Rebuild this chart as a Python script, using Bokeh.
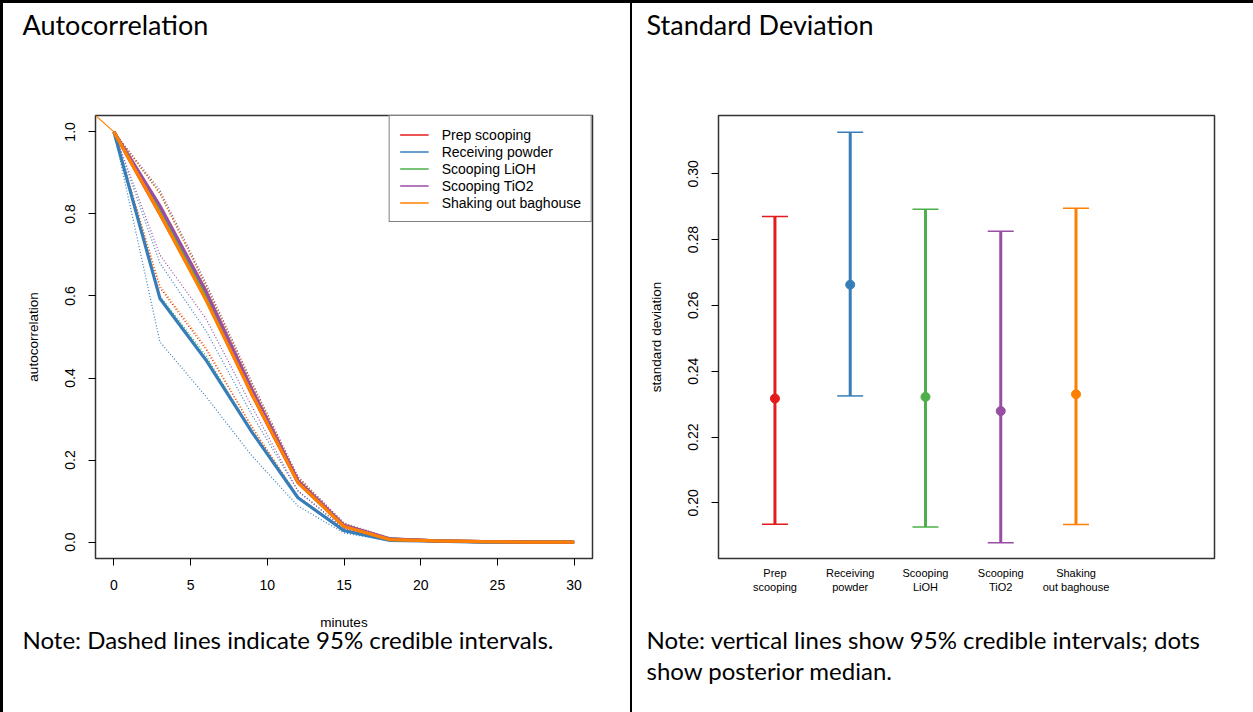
import numpy as np
from bokeh.plotting import figure
from bokeh.models import (Label, Legend, LegendItem, FixedTicker, PrintfTickFormatter,
                          Range1d, Spacer, Whisker, TeeHead, ColumnDataSource, Title)
from bokeh.layouts import row, column
from bokeh.embed import file_html
from bokeh.resources import INLINE

# ---------------- data ----------------
series_names = ["Prep scooping", "Receiving powder", "Scooping LiOH", "Scooping TiO2", "Shaking out baghouse"]
colors = ["#E41A1C", "#377EB8", "#4DAF4A", "#984EA3", "#FF7F00"]

lags = [0, 3, 6, 9, 12, 15, 18, 21, 24, 27, 30]

acf_prep = [1.0, 0.800, 0.595, 0.360, 0.145, 0.039, 0.007, 0.003, 0.001, 0.0, 0.0]
acf_recv = [1.0, 0.594, 0.444, 0.268, 0.108, 0.028, 0.004, 0.002, 0.0, 0.0, 0.0]
acf_lioh = [1.0, 0.808, 0.600, 0.365, 0.148, 0.040, 0.007, 0.003, 0.001, 0.0, 0.0]
acf_tio2 = [1.0, 0.820, 0.612, 0.372, 0.150, 0.041, 0.008, 0.003, 0.001, 0.0, 0.0]
acf_shake = [1.0, 0.800, 0.590, 0.360, 0.145, 0.038, 0.006, 0.003, 0.001, 0.0, 0.0]

lo_prep = [1.0, 0.620, 0.470, 0.280, 0.110, 0.029, 0.004, 0.001, 0.0, 0.0, 0.0]
lo_recv = [1.0, 0.488, 0.355, 0.210, 0.088, 0.022, 0.003, 0.001, 0.0, 0.0, 0.0]
lo_lioh = [1.0, 0.600, 0.455, 0.270, 0.106, 0.028, 0.004, 0.001, 0.0, 0.0, 0.0]
lo_tio2 = [1.0, 0.700, 0.545, 0.330, 0.124, 0.032, 0.005, 0.001, 0.0, 0.0, 0.0]
lo_shake = [1.0, 0.625, 0.475, 0.282, 0.111, 0.029, 0.004, 0.001, 0.0, 0.0, 0.0]

hi_prep = [1.0, 0.850, 0.625, 0.385, 0.157, 0.045, 0.009, 0.004, 0.001, 0.0, 0.0]
hi_recv = [1.0, 0.680, 0.515, 0.310, 0.125, 0.034, 0.006, 0.002, 0.0, 0.0, 0.0]
hi_lioh = [1.0, 0.852, 0.627, 0.386, 0.157, 0.045, 0.009, 0.004, 0.001, 0.0, 0.0]
hi_tio2 = [1.0, 0.858, 0.632, 0.390, 0.160, 0.047, 0.009, 0.004, 0.001, 0.0, 0.0]
hi_shake = [1.0, 0.850, 0.625, 0.385, 0.157, 0.045, 0.009, 0.004, 0.001, 0.0, 0.0]

lead_lags = [-3, 0]
lead_acf = [1.1, 1.0]

acf_x_ticks = [0, 5, 10, 15, 20, 25, 30]
acf_y_ticks = [0.0, 0.2, 0.4, 0.6, 0.8, 1.0]

sd_labels = ["Prep\nscooping", "Receiving\npowder", "Scooping\nLiOH", "Scooping\nTiO2", "Shaking\nout baghouse"]
sd_pos = [1, 2, 3, 4, 5]
sd_median = [0.2317, 0.2663, 0.2322, 0.2279, 0.2330]
sd_lower = [0.1935, 0.2325, 0.1927, 0.1879, 0.1934]
sd_upper = [0.2870, 0.3126, 0.2892, 0.2825, 0.2895]
sd_y_ticks = [0.20, 0.22, 0.24, 0.26, 0.28, 0.30]

title_left = "Autocorrelation"
title_right = "Standard Deviation"
note_left = ["Note: Dashed lines indicate 95% credible intervals."]
note_right = ["Note: vertical lines show 95% credible intervals; dots", "show posterior median."]

acf_mid = [acf_prep, acf_recv, acf_lioh, acf_tio2, acf_shake]
acf_lo = [lo_prep, lo_recv, lo_lioh, lo_tio2, lo_shake]
acf_hi = [hi_prep, hi_recv, hi_lioh, hi_tio2, hi_shake]

AX_FONT = "Liberation Sans"
DOC_FONT = "Lato"
W_L, W_R = 627, 621
H_TITLE, H_PLOT = 60, 649


def style_axes(p):
    p.xgrid.visible = False
    p.ygrid.visible = False
    p.outline_line_color = "#333333"
    p.outline_line_width = 1.5
    p.background_fill_color = "white"
    p.border_fill_color = "white"
    for ax in (p.xaxis[0], p.yaxis[0]):
        ax.axis_line_color = None
        ax.major_tick_in = 0
        ax.major_tick_out = 7
        ax.major_tick_line_color = "black"
        ax.minor_tick_line_color = None
        ax.major_label_text_font = AX_FONT
        ax.major_label_text_font_size = "14px"
        ax.major_label_text_color = "black"
        ax.axis_label_text_font = AX_FONT
        ax.axis_label_text_font_size = "13.5px"
        ax.axis_label_text_font_style = "normal"
        ax.axis_label_text_color = "black"
    p.yaxis[0].major_label_orientation = "vertical"


def add_note_line(p, text, offset, standoff):
    p.add_layout(Title(text=text, align="left", offset=offset, standoff=standoff,
                       text_font=DOC_FONT, text_font_size="24px",
                       text_font_style="normal", text_color="black"), "below")


def text_panel(width, height, lines, x, y_top_baseline, size):
    t = figure(width=width, height=height, x_range=Range1d(0, 1), y_range=Range1d(0, 1),
               output_backend="svg", toolbar_location=None, title=None,
               x_axis_location=None, y_axis_location=None, min_border=0,
               frame_align=False)
    t.xgrid.visible = False
    t.ygrid.visible = False
    t.outline_line_color = None
    t.border_fill_color = "white"
    for line in lines:
        t.add_layout(Label(x=x, y=height - y_top_baseline,
                           x_units="screen", y_units="screen", text=line,
                           text_font=DOC_FONT, text_font_size=size, text_color="black",
                           text_baseline="alphabetic"))
    return t


# ---------------- left: autocorrelation ----------------
p1 = figure(width=W_L, height=H_PLOT, x_range=Range1d(-1.2, 31.2), y_range=Range1d(-0.04, 1.04),
            output_backend="svg", toolbar_location=None, frame_align=False,
            min_border_left=92, min_border_right=38, min_border_top=52, min_border_bottom=154)
style_axes(p1)
p1.xaxis[0].ticker = FixedTicker(ticks=acf_x_ticks)
p1.yaxis[0].ticker = FixedTicker(ticks=acf_y_ticks)
p1.yaxis[0].formatter = PrintfTickFormatter(format="%.1f")
p1.xaxis[0].axis_label = "minutes"
p1.yaxis[0].axis_label = "autocorrelation"
p1.xaxis[0].major_label_standoff = 14
p1.yaxis[0].major_label_standoff = 13
p1.xaxis[0].axis_label_standoff = 22
p1.yaxis[0].axis_label_standoff = 22

for i in range(5):
    p1.line(lags, acf_lo[i], line_color=colors[i], line_width=1.2, line_dash="1 2")
    p1.line(lags, acf_hi[i], line_color=colors[i], line_width=1.2, line_dash="1 2")

legend_items = []
for i in range(5):
    thin = p1.line(lags, acf_mid[i], line_color=colors[i], line_width=1.6)
    legend_items.append(LegendItem(label=series_names[i], renderers=[thin]))
for i in range(5):
    p1.line(lags, acf_mid[i], line_color=colors[i], line_width=3.2)
p1.line(lead_lags, lead_acf, line_color=colors[4], line_width=1.2)

legend = Legend(items=legend_items, location="top_right", margin=0, padding=10, spacing=0,
                border_line_color="black", border_line_width=1, background_fill_alpha=1,
                label_text_font=AX_FONT, label_text_font_size="14px", label_text_color="black",
                glyph_width=29, glyph_height=17, label_height=17, label_standoff=13)
p1.add_layout(legend, "center")
add_note_line(p1, note_left[0], -73, -20)

# ---------------- right: standard deviation ----------------
p2 = figure(width=W_R, height=H_PLOT, x_range=Range1d(0.25, 6.84), y_range=Range1d(0.1831, 0.3177),
            output_backend="svg", toolbar_location=None, frame_align=False,
            min_border_left=86, min_border_right=39, min_border_top=52, min_border_bottom=154)
style_axes(p2)
p2.yaxis[0].ticker = FixedTicker(ticks=sd_y_ticks)
p2.yaxis[0].formatter = PrintfTickFormatter(format="%.2f")
p2.xaxis[0].ticker = FixedTicker(ticks=sd_pos)
p2.xaxis[0].major_label_overrides = {pos: lab for pos, lab in zip(sd_pos, sd_labels)}
p2.xaxis[0].major_tick_out = 0
p2.xaxis[0].major_label_text_font_size = "11px"
p2.xaxis[0].major_label_standoff = 8
p2.yaxis[0].axis_label = "standard deviation"
p2.yaxis[0].major_label_standoff = 13
p2.yaxis[0].axis_label_standoff = 22

src = ColumnDataSource(dict(x=sd_pos, med=sd_median, lo=sd_lower, hi=sd_upper, color=colors))
w = Whisker(base="x", lower="lo", upper="hi", source=src, dimension="height",
            line_color="color", line_width=3,
            upper_head=TeeHead(size=26, line_color="color", line_width=1.5),
            lower_head=TeeHead(size=26, line_color="color", line_width=1.5))
p2.add_layout(w)
p2.scatter(x="x", y="med", source=src, size=9, fill_color="color", line_color="color")
# blank spacer line, then the two note lines
add_note_line(p2, " ", -72, -4.5)
add_note_line(p2, note_right[0], -72, 0)
add_note_line(p2, note_right[1], -72, 0)

# ---------------- title panels ----------------
t1 = text_panel(W_L, H_TITLE, [title_left], 19, 21, "27px")
t2 = text_panel(W_R, H_TITLE, [title_right], 14, 21, "27px")

# ---------------- table borders ----------------
H = H_TITLE + H_PLOT
top = Spacer(width=1253, height=3, styles={"background-color": "black"})
left = Spacer(width=3, height=H, styles={"background-color": "black"})
mid = Spacer(width=2, height=H, styles={"background-color": "black"})
colL = column(t1, p1, spacing=0)
colR = column(t2, p2, spacing=0)
layout = column(top, row(left, colL, mid, colR, spacing=0), spacing=0)

open("out.html", "w").write(file_html(layout, INLINE))
